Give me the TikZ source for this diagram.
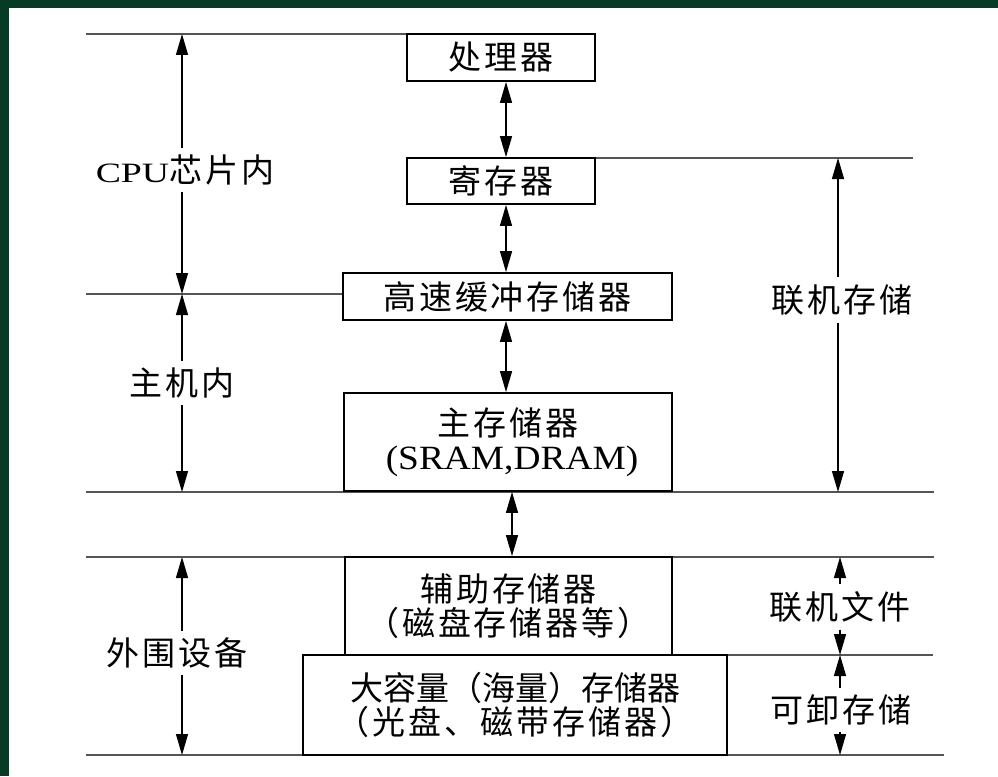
\documentclass[tikz,border=0pt]{standalone}
\usepackage{fontspec}
\usepackage{graphicx}
\setmainfont{Liberation Serif}
\newfontfamily\cjk{Noto Sans CJK SC}[LetterSpace=9]
\usetikzlibrary{arrows.meta}
\definecolor{slidegreen}{RGB}{7,59,37}
\definecolor{rulegray}{RGB}{85,85,85}
% wide-set Latin text
\newcommand\widelatin[3]{\scalebox{#2}[1]{\rmfamily\fontsize{#1}{#1}\selectfont #3}}
\tikzset{
  memory/.style={draw=black, line width=1.8pt, fill=white, inner sep=0pt, align=center,
    font=\cjk\fontsize{33}{34}\selectfont},
  levelname/.style={fill=white, inner xsep=2pt, inner ysep=7pt,
    font=\cjk\fontsize{33}{34}\selectfont},
  boundary/.style={draw=rulegray, line width=1.4pt},
  duplex/.style={line width=1.3pt, {Triangle[length=21pt,width=12pt]}-{Triangle[length=21pt,width=12pt]}},
  span/.style={line width=1.3pt, -{Triangle[length=21pt,width=12pt]}},
}
\begin{document}
\begin{tikzpicture}[x=1pt,y=-1pt]
% page and slide frame
\fill[white] (0,0) rectangle (998,776);
\fill[slidegreen] (0,0) rectangle (998,8);
\fill[slidegreen] (0,0) rectangle (9,776);
\useasboundingbox (0,0) rectangle (998,776);

% level boundaries
\coordinate (L1) at (86,34);   \coordinate (R1) at (407,34);
\coordinate (L2) at (595,158); \coordinate (R2) at (913,158);
\coordinate (L3) at (86,294);  \coordinate (R3) at (343,294);
\coordinate (L4) at (86,492);  \coordinate (R4) at (934,492);
\coordinate (L5) at (86,557);  \coordinate (R5) at (934,557);
\coordinate (L6) at (727,655); \coordinate (R6) at (933,655);
\coordinate (L7) at (86,755);  \coordinate (R7) at (944,755);
\foreach \i in {1,...,7} \draw[boundary] (L\i) -- (R\i);

% memory hierarchy
\node[memory, minimum width=188pt, minimum height=47pt] (proc) at (501,57.5) {处理器};
\node[memory, minimum width=188pt, minimum height=46pt] (reg) at (501,181) {寄存器};
\node[memory, minimum width=329pt, minimum height=47pt] (cache) at (507.5,296.5) {高速缓冲存储器};
\node[memory, minimum width=328pt, minimum height=98pt] (main) at (508,442)
  {主存储器\\\hspace*{8pt}\widelatin{34}{1.1}{(SRAM,DRAM)}};
\node[memory, minimum width=327pt, minimum height=98pt] (aux) at (508.5,606)
  {辅助存储器\\（磁盘存储器等）};
\node[memory, minimum width=424pt, minimum height=100pt] (mass) at (515,705)
  {{\addfontfeature{LetterSpace=0}大容量（海量）存储器}\\（光盘、磁带存储器）};

% level names
\node[levelname] (onchip) at (185,170) {\widelatin{28}{1.35}{CPU}芯片内};
\node[levelname] (inhost) at (182,383) {主机内};
\node[levelname] (periph) at (177,653) {外围设备};
\node[levelname] (online) at (842,300) {联机存储};
\node[levelname] (onfile) at (840,607) {联机文件};
\node[levelname] (remov)  at (841,710) {可卸存储};

% extent arrows
\coordinate (lx) at (182,0);
\coordinate (rx) at (838,0);
\coordinate (rx2) at (840,0);
\draw[span] (onchip.north -| lx) -- (L1 -| lx);
\draw[span] (onchip.south -| lx) -- (L3 -| lx);
\draw[span] (inhost.north -| lx) -- (L3 -| lx);
\draw[span] (inhost.south -| lx) -- (L4 -| lx);
\draw[span] (periph.north -| lx) -- (L5 -| lx);
\draw[span] (periph.south -| lx) -- (L7 -| lx);
\draw[span] (online.north -| rx) -- (L2 -| rx);
\draw[span] (online.south -| rx) -- (L4 -| rx);
\draw[span] (onfile.north -| rx2) -- (L5 -| rx2);
\draw[span] (onfile.south -| rx2) -- (L6 -| rx2);
\draw[span] (remov.north -| rx2) -- (L6 -| rx2);
\draw[span] (remov.south -| rx2) -- (L7 -| rx2);

% data paths between levels
\coordinate (cx) at (506,0);
\coordinate (mx) at (512,0);
\draw[duplex] (proc.south -| cx) -- (reg.north -| cx);
\draw[duplex] (reg.south -| cx) -- (cache.north -| cx);
\draw[duplex] (cache.south -| cx) -- (main.north -| cx);
\draw[duplex] (main.south -| mx) -- (aux.north -| mx);
\end{tikzpicture}
\end{document}
